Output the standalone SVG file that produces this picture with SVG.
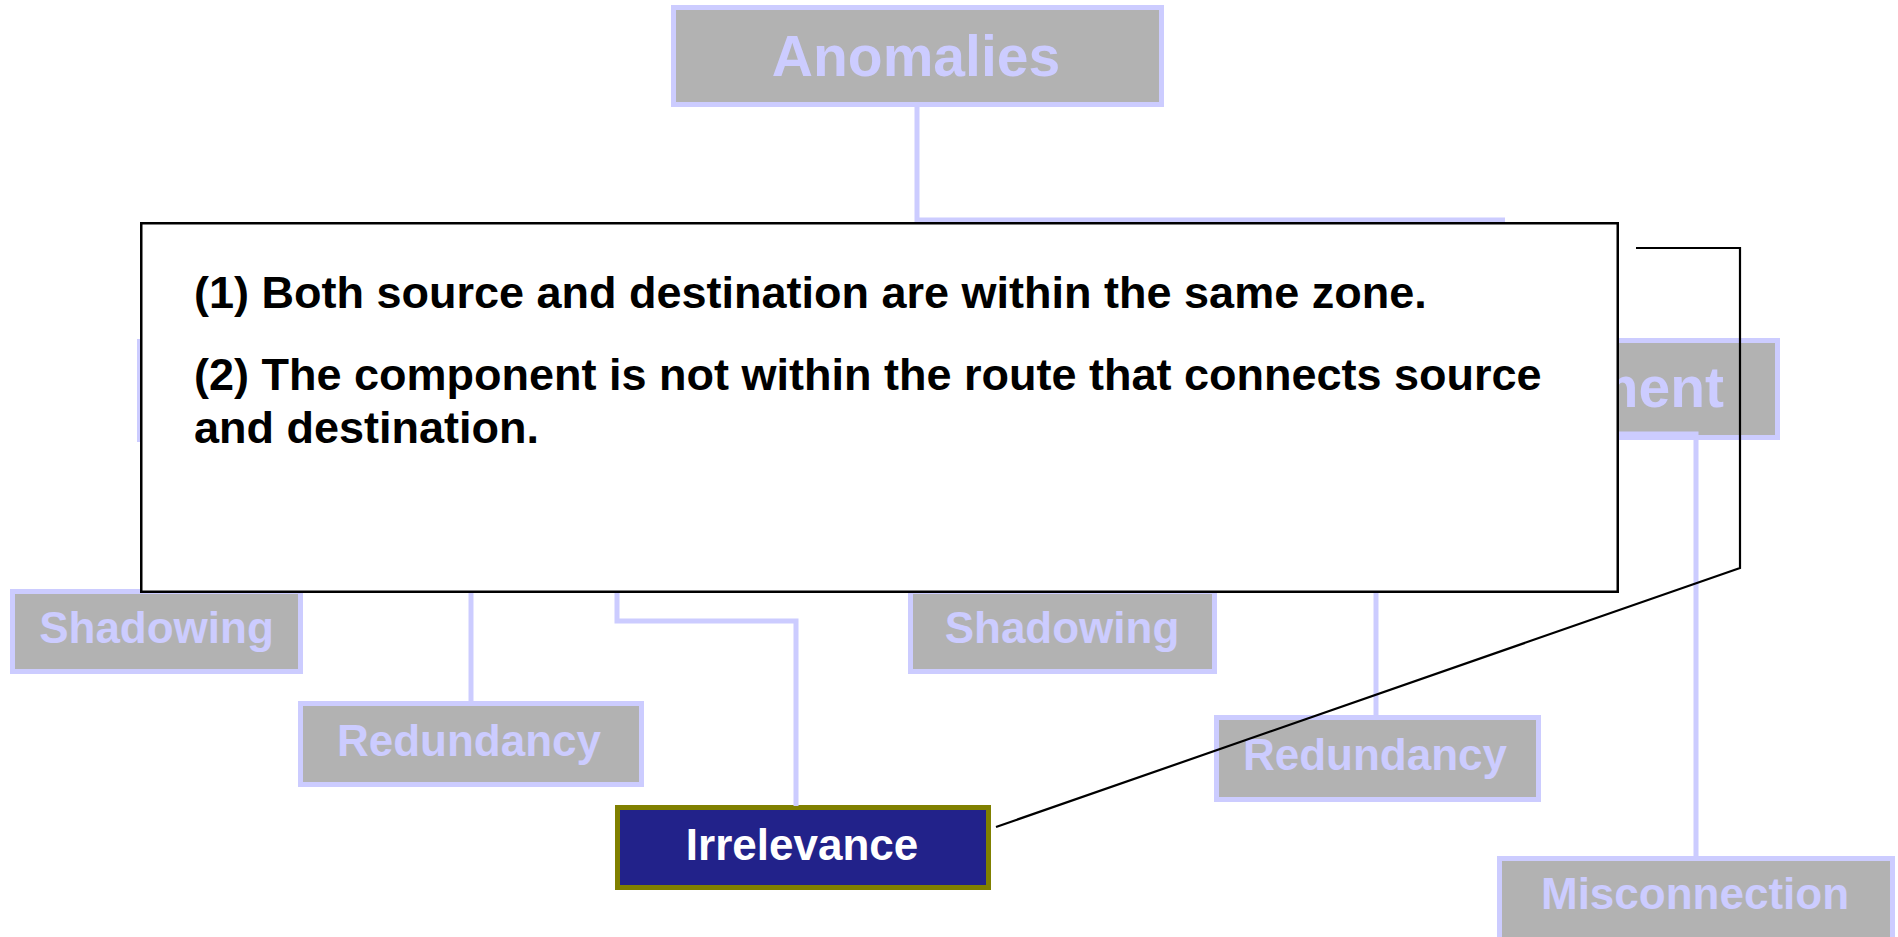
<svg xmlns="http://www.w3.org/2000/svg" width="1898" height="937" viewBox="0 0 1898 937">
  <style>
    .node rect { fill: #B2B2B2; stroke: #CCCCFF; stroke-width: 5; }
    .node text { fill: #CCCCFF; font-family: "Liberation Sans", Arial, sans-serif; font-weight: bold; text-anchor: middle; }
    .big { font-size: 57px; }
    .small { font-size: 44px; }
    .conn { fill: none; stroke: #CCCCFF; stroke-width: 5; }
    #n-irrelevance rect { fill: #22228A; stroke: #808000; }
    #n-irrelevance text { fill: #FFFFFF; }
    .callout rect { fill: #FFFFFF; stroke: #000000; stroke-width: 2.5; }
    .callout text { fill: #000000; font-family: "Liberation Sans", Arial, sans-serif; font-weight: bold; font-size: 45px; }
    .leader { fill: none; stroke: #000000; stroke-width: 2.2; }
  </style>

  <rect width="1898" height="937" fill="#FFFFFF"/>

  <!-- tree nodes -->
  <g id="n-anomalies" class="node">
    <rect x="673.5" y="7.5" width="488" height="97"/>
    <text class="big" x="916" y="76">Anomalies</text>
  </g>
  <g id="n-left-category" class="node">
    <rect x="139.5" y="341.5" width="300" height="98"/>
  </g>
  <g id="n-right-category" class="node">
    <rect x="1400" y="340.5" width="377.5" height="97"/>
    <text class="big" x="1724" y="407" style="text-anchor:end">ment</text>
  </g>
  <g id="n-shadowing-1" class="node">
    <rect x="12.5" y="591.5" width="288" height="80"/>
    <text class="small" x="156.5" y="643">Shadowing</text>
  </g>
  <g id="n-redundancy-1" class="node">
    <rect x="300.5" y="703.5" width="341" height="81"/>
    <text class="small" x="469" y="756">Redundancy</text>
  </g>
  <g id="n-irrelevance" class="node">
    <rect x="617.5" y="807.5" width="371" height="80"/>
    <text class="small" x="802" y="860">Irrelevance</text>
  </g>
  <g id="n-shadowing-2" class="node">
    <rect x="910.5" y="591.5" width="304" height="80"/>
    <text class="small" x="1062" y="643">Shadowing</text>
  </g>
  <g id="n-redundancy-2" class="node">
    <rect x="1216.5" y="717.5" width="322" height="82"/>
    <text class="small" x="1375" y="770">Redundancy</text>
  </g>
  <g id="n-misconnection" class="node">
    <rect x="1499.5" y="858.5" width="393" height="100"/>
    <text class="small" x="1695" y="909">Misconnection</text>
  </g>

  <!-- tree connectors -->
  <g id="connectors" class="conn">
    <polyline points="917,107 917,220 1505,220"/>
    <line x1="471" y1="590" x2="471" y2="702"/>
    <polyline points="617,590 617,621 796,621 796,806"/>
    <line x1="1376" y1="590" x2="1376" y2="716"/>
    <polyline points="1560,434 1696,434 1696,857"/>
  </g>

  <!-- definition callout -->
  <g id="callout" class="callout">
    <rect x="141.25" y="223.25" width="1476.5" height="368.5"/>
    <text x="194" y="308">(1) Both source and destination are within the same zone.</text>
    <text x="194" y="390">(2) The component is not within the route that connects source</text>
    <text x="194" y="443">and destination.</text>
  </g>
  <polyline id="callout-leader" class="leader" points="1636,248 1740,248 1740,568 996,827"/>
</svg>
